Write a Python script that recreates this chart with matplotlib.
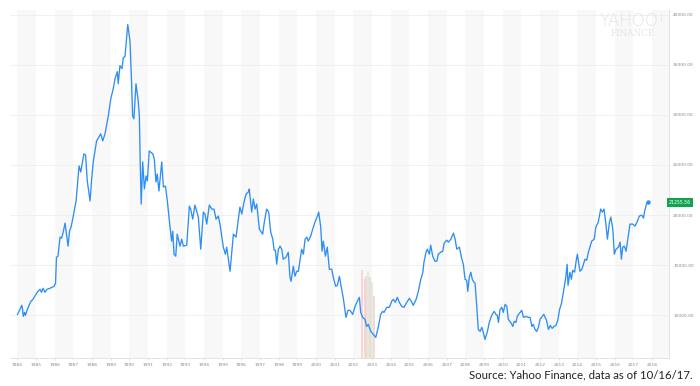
import matplotlib
matplotlib.use("Agg")
import matplotlib.pyplot as plt

# ---- data (decimal year, index level) ----
dates = [
    1984.00, 1984.11, 1984.23, 1984.27, 1984.31, 1984.38, 1984.43, 1984.51, 1984.62, 1984.72,
    1984.83, 1984.99, 1985.10, 1985.21, 1985.29, 1985.37, 1985.47, 1985.58, 1985.74, 1985.85,
    1985.96, 1986.04, 1986.09, 1986.17, 1986.28, 1986.36, 1986.44, 1986.55, 1986.60, 1986.71,
    1986.79, 1986.87, 1986.96, 1987.14, 1987.30, 1987.39, 1987.56, 1987.65, 1987.74, 1987.80,
    1987.89, 1987.97, 1988.06, 1988.24, 1988.46, 1988.57, 1988.69, 1988.87, 1989.00, 1989.12,
    1989.23, 1989.35, 1989.40, 1989.49, 1989.60, 1989.67, 1989.76, 1989.84, 1989.91, 1990.03,
    1990.11, 1990.17, 1990.24, 1990.35, 1990.47, 1990.53, 1990.58, 1990.63, 1990.71, 1990.80,
    1990.89, 1990.96, 1991.06, 1991.25, 1991.33, 1991.42, 1991.49, 1991.58, 1991.73, 1991.82,
    1991.93, 1992.03, 1992.17, 1992.26, 1992.32, 1992.39, 1992.48, 1992.56, 1992.71, 1992.80,
    1992.89, 1993.07, 1993.21, 1993.28, 1993.39, 1993.51, 1993.69, 1993.82, 1993.96, 1994.05,
    1994.14, 1994.28, 1994.41, 1994.53, 1994.64, 1994.76, 1994.85, 1995.03, 1995.14, 1995.21,
    1995.39, 1995.48, 1995.57, 1995.71, 1995.92, 1996.02, 1996.14, 1996.25, 1996.37, 1996.42,
    1996.55, 1996.64, 1996.73, 1996.82, 1996.96, 1997.03, 1997.14, 1997.21, 1997.35, 1997.46,
    1997.57, 1997.68, 1997.75, 1997.82, 1997.89, 1997.98, 1998.07, 1998.16, 1998.24, 1998.39,
    1998.51, 1998.60, 1998.66, 1998.78, 1998.87, 1998.96, 1999.05, 1999.23, 1999.32, 1999.41,
    1999.50, 1999.58, 1999.71, 1999.82, 1999.94, 2000.07, 2000.14, 2000.25, 2000.32, 2000.39,
    2000.50, 2000.60, 2000.71, 2000.84, 2000.92, 2001.05, 2001.14, 2001.25, 2001.34, 2001.46,
    2001.60, 2001.71, 2001.82, 2001.96, 2002.09, 2002.21, 2002.32, 2002.39, 2002.50, 2002.62,
    2002.71, 2002.80, 2002.93, 2003.07, 2003.20, 2003.34, 2003.46, 2003.57, 2003.64, 2003.79,
    2003.93, 2004.05, 2004.14, 2004.25, 2004.35, 2004.46, 2004.59, 2004.71, 2004.86, 2005.00,
    2005.10, 2005.21, 2005.36, 2005.48, 2005.61, 2005.72, 2005.78, 2005.89, 2005.96, 2006.07,
    2006.14, 2006.25, 2006.37, 2006.47, 2006.55, 2006.68, 2006.79, 2006.86, 2007.00, 2007.09,
    2007.22, 2007.36, 2007.45, 2007.54, 2007.68, 2007.81, 2007.89, 2007.98, 2008.07, 2008.13,
    2008.21, 2008.29, 2008.37, 2008.46, 2008.52, 2008.61, 2008.69, 2008.79, 2008.88, 2008.96,
    2009.05, 2009.18, 2009.28, 2009.41, 2009.54, 2009.64, 2009.71, 2009.77, 2009.86, 2009.95,
    2010.03, 2010.13, 2010.22, 2010.30, 2010.43, 2010.54, 2010.62, 2010.71, 2010.78, 2010.89,
    2011.02, 2011.11, 2011.25, 2011.37, 2011.47, 2011.56, 2011.64, 2011.73, 2011.82, 2011.91,
    2012.00, 2012.20, 2012.35, 2012.45, 2012.55, 2012.65, 2012.75, 2012.85, 2012.95, 2013.05,
    2013.15, 2013.25, 2013.38, 2013.45, 2013.50, 2013.60, 2013.68, 2013.75, 2013.85, 2013.95,
    2014.00, 2014.10, 2014.14, 2014.24, 2014.41, 2014.50, 2014.59, 2014.77, 2014.90, 2014.99,
    2015.12, 2015.25, 2015.34, 2015.43, 2015.54, 2015.61, 2015.72, 2015.79, 2015.90, 2015.98,
    2016.07, 2016.20, 2016.29, 2016.36, 2016.43, 2016.52, 2016.61, 2016.73, 2016.82, 2016.97,
    2017.09, 2017.22, 2017.32, 2017.45, 2017.54, 2017.63, 2017.72, 2017.80,
]
values = [
    10100, 10500, 11000, 10700, 9900, 10300, 10000, 10500, 11000, 11400,
    11600, 12100, 12400, 12600, 12300, 12700, 12300, 12600, 12700, 12800,
    12900, 13200, 15800, 15900, 17800, 17700, 18200, 19200, 18500, 16900,
    18400, 18800, 19600, 21400, 24900, 24300, 26100, 26000, 23400, 22600,
    21400, 23500, 25300, 27400, 28100, 27400, 28100, 29900, 31600, 32500,
    33600, 34300, 33100, 34900, 34600, 35700, 35800, 37500, 39000, 37300,
    33500, 29900, 29600, 33100, 31400, 29900, 25000, 21100, 25300, 22600,
    23900, 23400, 26400, 26100, 25600, 23300, 24100, 22400, 25300, 22800,
    22900, 21400, 18900, 17400, 18400, 16100, 15900, 18100, 16900, 17600,
    16900, 17000, 20900, 20600, 19600, 21000, 19800, 16600, 20300, 20100,
    19100, 21000, 20600, 20600, 19600, 19900, 19100, 16800, 16100, 16800,
    14400, 16300, 18100, 17800, 20800, 20100, 21300, 22100, 22300, 22600,
    20300, 21600, 20600, 21100, 18600, 18400, 18100, 19100, 20600, 20300,
    18300, 17600, 16500, 16500, 15100, 16600, 16900, 16600, 15600, 15800,
    16300, 13800, 13400, 14900, 13900, 14400, 14400, 16600, 16100, 17600,
    17800, 17400, 17900, 18600, 19300, 19900, 20300, 18800, 16400, 17400,
    15900, 16800, 14600, 14600, 13800, 12900, 13000, 13900, 12900, 11700,
    9800, 10500, 10500, 10100, 10900, 11400, 11800, 10300, 9800, 9600,
    8900, 9100, 8400, 8100, 7800, 8900, 10100, 10400, 10300, 10800,
    10800, 11400, 11600, 11300, 11800, 11300, 10900, 10800, 11300, 11700,
    11400, 11000, 11600, 12400, 13600, 14300, 15300, 16300, 16600, 16100,
    17000, 15900, 15400, 15400, 16100, 16300, 16400, 17200, 17500, 17300,
    17600, 18200, 17600, 16600, 16800, 15600, 15100, 13600, 13500, 12400,
    13800, 14300, 13600, 13300, 13200, 10900, 8600, 8400, 8800, 8300,
    7600, 8400, 9300, 10000, 10400, 10100, 10000, 9300, 10600, 10800,
    10300, 11100, 10900, 9600, 9300, 8900, 9400, 9300, 9900, 10200,
    10500, 9800, 9900, 9800, 9800, 8900, 9100, 8600, 8400, 8800,
    9600, 10100, 9500, 8600, 9000, 8700, 8900, 9000, 9500, 10600,
    11200, 12300, 13800, 15100, 13000, 14300, 13600, 14500, 14300, 15600,
    16100, 14900, 14400, 14600, 15600, 15500, 16300, 17400, 17600, 18800,
    19300, 20600, 20300, 20600, 18900, 17600, 19300, 19800, 18600, 16100,
    16600, 16800, 17300, 15600, 16800, 16900, 16400, 17900, 19100, 19100,
    18900, 19400, 19900, 20000, 19700, 20600, 21200, 21255.56,
]

# event bars (2002-2003)
bar_dates = [2002.44, 2002.61, 2002.69, 2002.78, 2002.89, 2002.98, 2003.10]
bar_tops = [14500, 13600, 13900, 14400, 13800, 13300, 11900]
bar_kinds = ["red", "red", "red", "green", "red", "green", "red"]

year_ticks = list(range(1984, 2019))
y_ticks = [10000, 15000, 20000, 25000, 30000, 35000, 40000]
last_label = "21255.56"
source_text = "Source: Yahoo Finance, data as of 10/16/17."

# ---- figure ----
fig = plt.figure(figsize=(7.0, 3.86), dpi=100)
ax = fig.add_axes([10 / 700, 28 / 386, 659 / 700, 348 / 386])

x0, x1 = 1983.6, 2018.91
y0, y1 = 5750, 40450
ax.set_xlim(x0, x1)
ax.set_ylim(y0, y1)

# alternating year bands
for yr in range(1984, 2019, 2):
    ax.axvspan(yr, min(yr + 1, x1), color="#f8f8f8", lw=0, zorder=0)

# horizontal grid
for yv in y_ticks:
    ax.axhline(yv, color="#eeeeee", lw=0.6, zorder=1)

# event bars
kind_col = {"red": "#f9cccc", "green": "#cdeed8"}
for d, t, k in zip(bar_dates, bar_tops, bar_kinds):
    ax.vlines(d, y0, t, color=kind_col[k], lw=1.3, alpha=0.85, zorder=2)

# main line
line_col = "#2e8ef4"
ax.plot(dates, values, color=line_col, lw=0.95, zorder=3, solid_joinstyle="round")
ax.plot(dates[-1], values[-1], "o", color=line_col, ms=2.2, zorder=4)

# spines
for s in ["top", "left"]:
    ax.spines[s].set_visible(False)
ax.spines["bottom"].set_color("#dddddd")
ax.spines["bottom"].set_linewidth(0.6)
ax.spines["right"].set_color("#dddddd")
ax.spines["right"].set_linewidth(0.6)

ax.set_xticks(year_ticks)
ax.set_xticklabels([str(y) for y in year_ticks])
ax.tick_params(axis="x", length=1.5, width=0.4, color="#cccccc", labelsize=3.2,
               labelcolor="#888888", pad=2)
ax.yaxis.tick_right()
ax.set_yticks(y_ticks)
ax.set_yticklabels([f"{v:.2f}" for v in y_ticks])
ax.tick_params(axis="y", length=0, labelsize=3.2, labelcolor="#888888", pad=3)

# last value label
ax.text(1.0, values[-1], last_label, transform=ax.get_yaxis_transform(),
        ha="left", va="center", fontsize=3.3, color="white",
        bbox=dict(boxstyle="square,pad=0.4", fc="#12a350", ec="none"),
        clip_on=False, zorder=5)

# watermark
fig.text(633 / 700, 1 - 21 / 386, "YAHOO!", ha="center", va="center",
         fontsize=12, color="#e4e4e4", family="DejaVu Sans", fontweight="light")
fig.text(633 / 700, 1 - 34 / 386, "FINANCE", ha="center", va="center",
         fontsize=6.3, color="#e4e4e4", family="DejaVu Serif")

# source
fig.text(693 / 700, 1 - 375 / 386, source_text, ha="right", va="center",
         fontsize=8.2, color="#222222", family="Lato")

fig.savefig("out.png", dpi=100, facecolor="white")
